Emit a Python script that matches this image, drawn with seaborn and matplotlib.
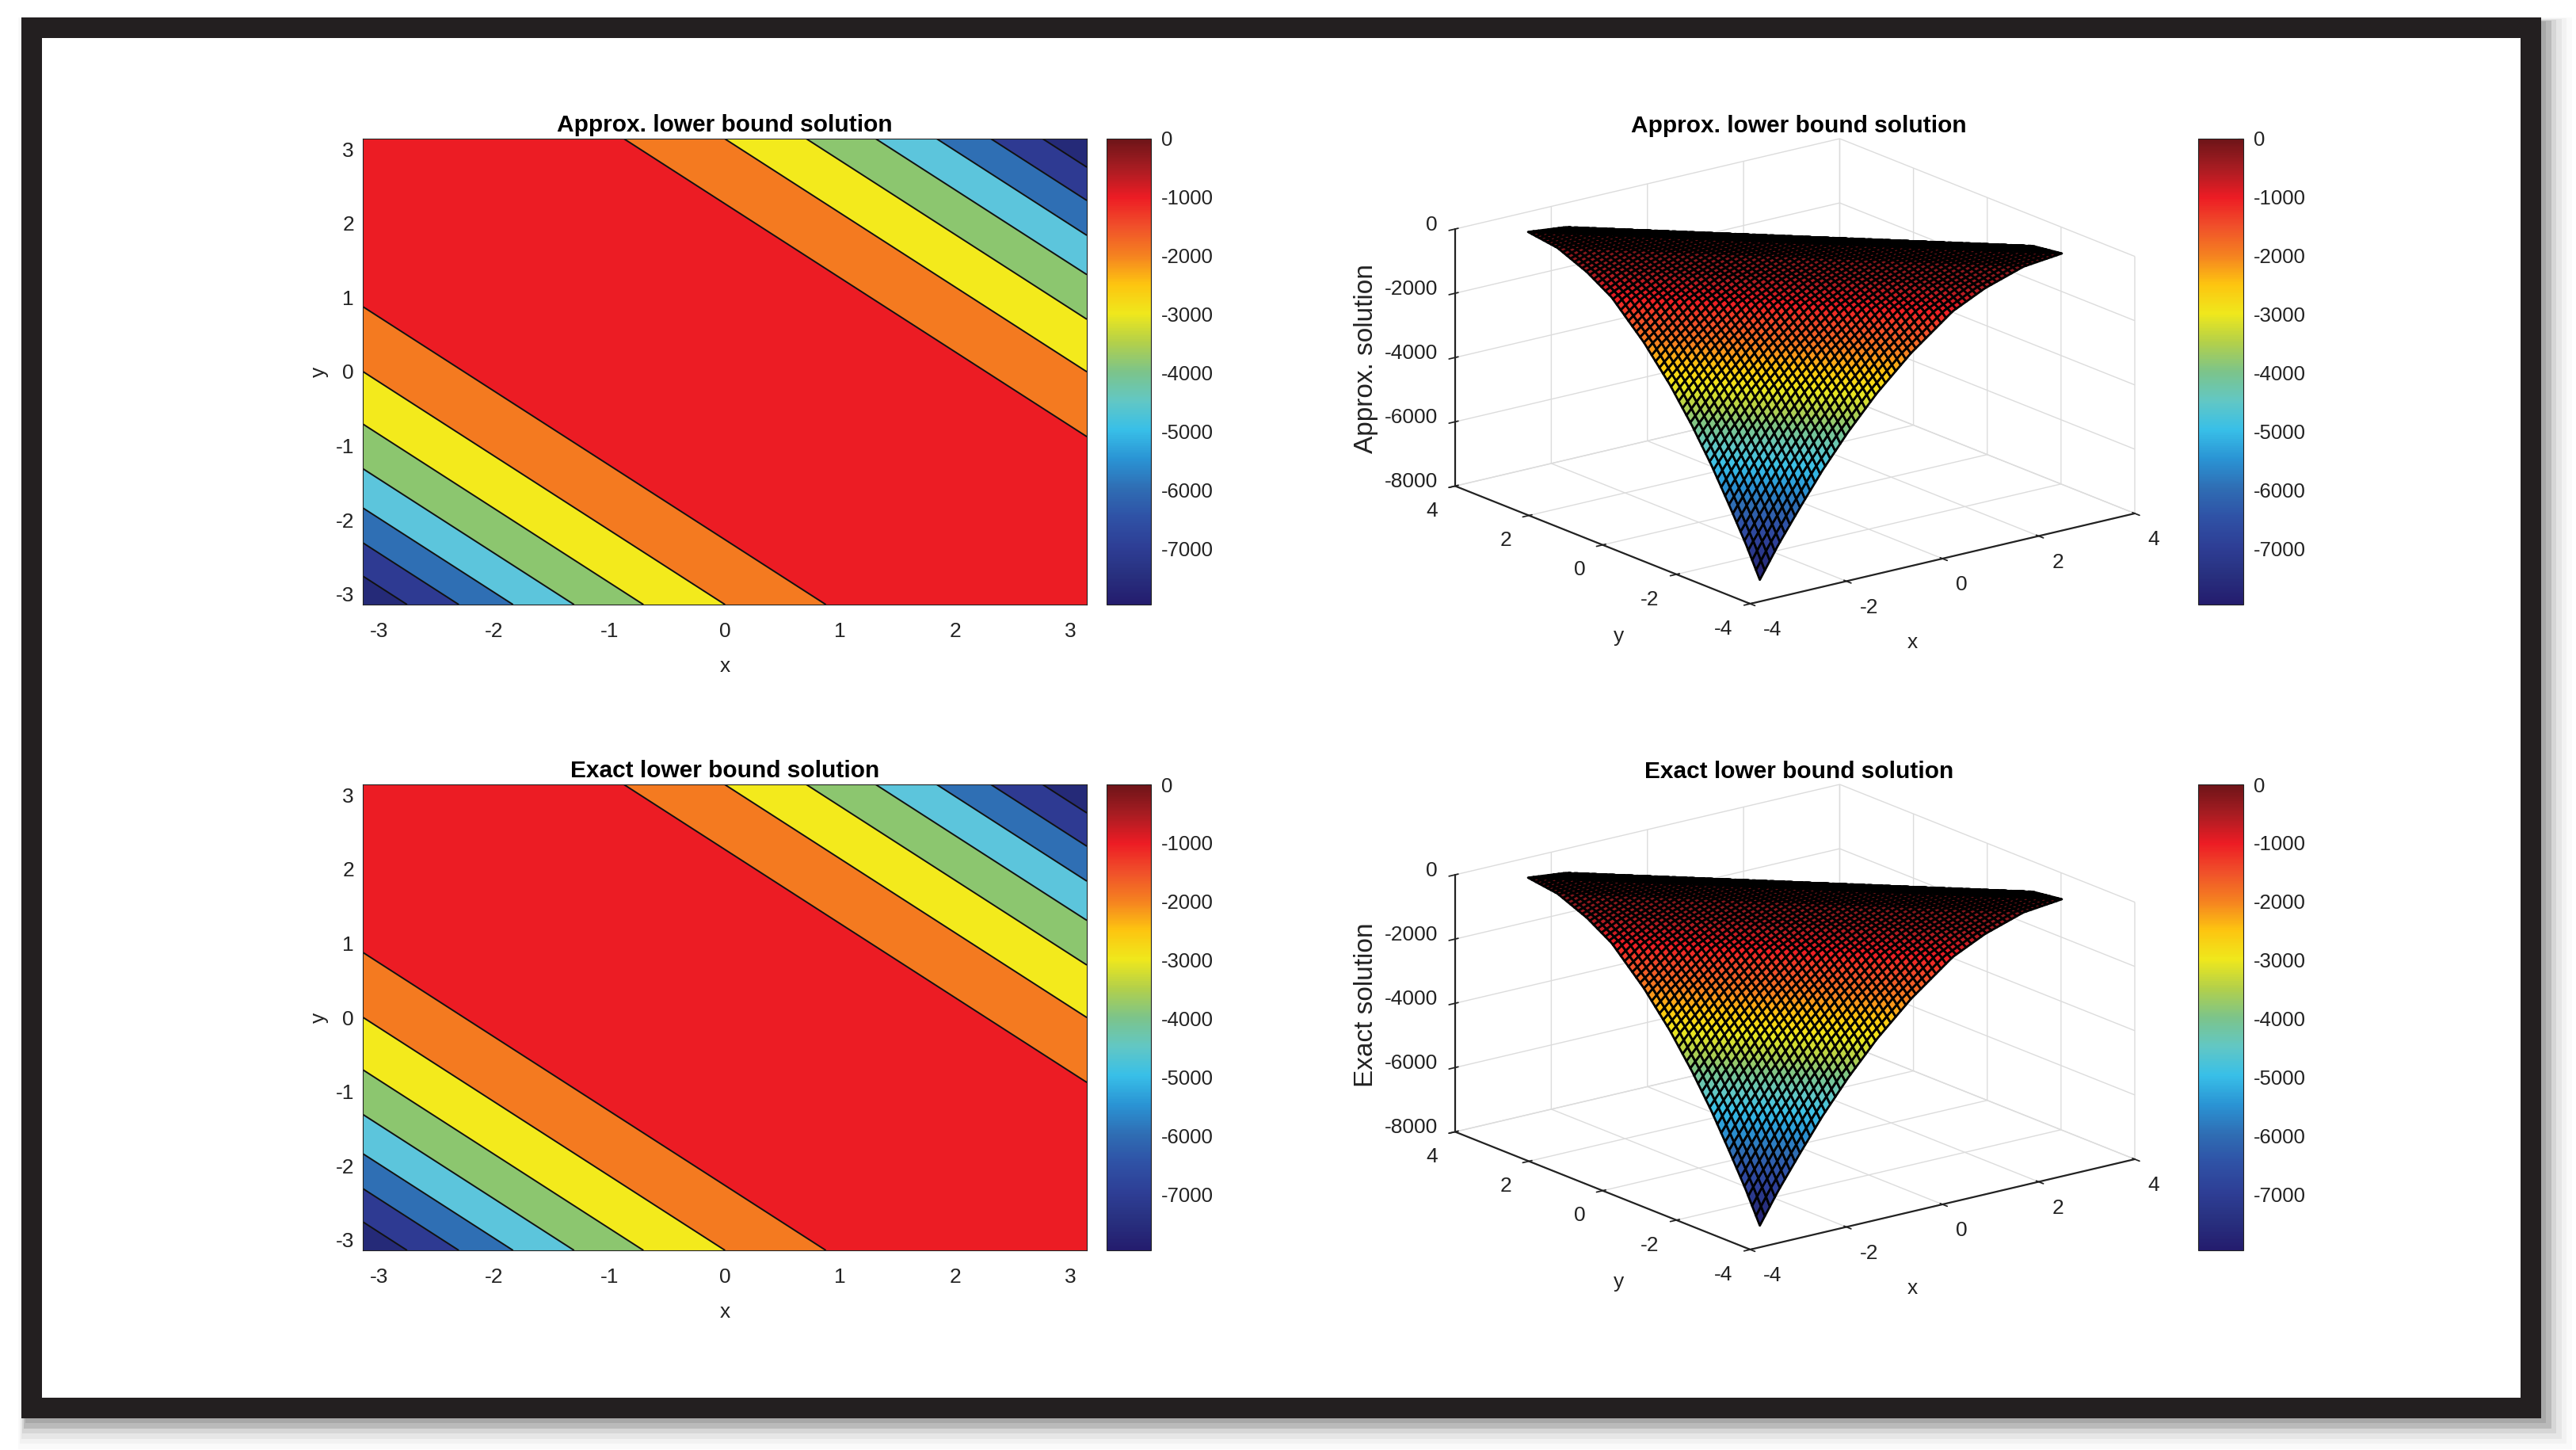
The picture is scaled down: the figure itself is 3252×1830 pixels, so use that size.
import numpy as np
import matplotlib
matplotlib.use("Agg")
import matplotlib.pyplot as plt
from matplotlib.patches import Rectangle
from matplotlib.cm import ScalarMappable
from matplotlib.colors import Normalize
from mpl_toolkits.mplot3d import proj3d
import seaborn as sns

# ---------- data ----------
abs_x_plus_y = [0.0, 0.8, 1.6, 2.27, 3.14, 3.85, 4.45, 4.98, 5.45, 5.90, 6.2832]
solution_u = [0, -130, -520, -1000, -2000, -3000, -4000, -5000, -6000, -7000, -7950]
contour_levels = [-7000, -6000, -5000, -4000, -3000, -2000, -1000]
band_levels = [-7950, -7000, -6000, -5000, -4000, -3000, -2000, -1000, 0]
band_colors = ["#252a78", "#2e3a92", "#2f6fb4", "#5cc5dc", "#8cc66f",
               "#f3ea1c", "#f47a20", "#ec1c24"]
cmap_anchors = ["#241c6e", "#28307f", "#2e3f96", "#2f52a6", "#2f6eb4", "#2a94d4", "#38bfe8",
                "#62c7c4", "#7cc48a", "#b3d04a", "#efe81c", "#fdc510", "#f58220", "#f0502a",
                "#ed1c24", "#a81c22", "#6e1418"]
grid_ticks_2d = [-3, -2, -1, 0, 1, 2, 3]
grid_ticks_3d = [-4, -2, 0, 2, 4]
z_ticks = [0, -2000, -4000, -6000, -8000]
cbar_ticks = [0, -1000, -2000, -3000, -4000, -5000, -6000, -7000]
titles_2d = ["Approx. lower bound solution", "Exact lower bound solution"]
z_labels = ["Approx. solution", "Exact solution"]
shadow_greys = [0.98, 0.95, 0.90, 0.84, 0.73, 0.66]

W, H = 3252, 1830
ROW_OFFSET = 815
FONT = ["Liberation Sans", "DejaVu Sans"]

sns.set_theme(style="white")
plt.rcParams["font.family"] = FONT
plt.rcParams["axes.unicode_minus"] = False

cmap = sns.blend_palette(cmap_anchors, n_colors=256, as_cmap=True)
norm = Normalize(-7950, 0)

grid_x = np.linspace(-np.pi, np.pi, 121)
X, Y = np.meshgrid(grid_x, grid_x)
Z = np.interp(np.abs(X + Y), abs_x_plus_y, solution_u)

fig = plt.figure(figsize=(W / 100, H / 100), dpi=100, facecolor="white")


def rect_px(left, top, right, bottom):
    return [left / W, 1 - bottom / H, (right - left) / W, (bottom - top) / H]


def frame_patch(left, top, right, bottom, color, z):
    r = rect_px(left, top, right, bottom)
    fig.add_artist(Rectangle((r[0], r[1]), r[2], r[3], transform=fig.transFigure,
                             facecolor=color, edgecolor="none", zorder=z))


# picture frame with its soft shadow
for i, g in enumerate(shadow_greys):
    grow = (len(shadow_greys) - 1 - i) * 6.5 + 6
    frame_patch(33 - grow * 0.25, 28 - grow * 0.15, 3208 + grow, 1790 + grow, (g, g, g), -10 + i)
frame_patch(27, 22, 3208, 1790, "#231f20", -3)
frame_patch(53, 48, 3182, 1764, "white", -2)


def colorbar(left, right, top, bottom):
    cax = fig.add_axes(rect_px(left, top, right, bottom))
    cb = fig.colorbar(ScalarMappable(norm=norm, cmap=cmap), cax=cax)
    cb.set_ticks(cbar_ticks)
    cb.set_ticklabels([str(t) for t in cbar_ticks])
    cb.ax.tick_params(labelsize=18.5, direction="in", length=5, width=0.8, pad=9, colors="#222222", right=True)
    cb.outline.set_linewidth(0.8)
    cb.outline.set_edgecolor("#222222")


for row in range(2):
    off = row * ROW_OFFSET

    # filled contour panel
    ax = fig.add_axes(rect_px(458, 175 + off, 1372, 763 + off))
    ax.contourf(X, Y, Z, levels=band_levels, colors=sns.color_palette(band_colors))
    ax.contour(X, Y, Z, levels=contour_levels, colors="#111111", linewidths=1.4, linestyles="solid")
    ax.set_xlim(-np.pi, np.pi)
    ax.set_ylim(-np.pi, np.pi)
    ax.set_xticks(grid_ticks_2d)
    ax.set_yticks(grid_ticks_2d)
    ax.tick_params(labelsize=19, direction="in", length=6, width=0.8, top=True, right=True,
                   bottom=True, left=True, colors="#222222")
    ax.tick_params(axis="x", pad=16)
    ax.tick_params(axis="y", pad=8)
    ax.set_xlabel("x", fontsize=19, labelpad=14, color="#222222")
    ax.set_ylabel("y", fontsize=19, labelpad=6, color="#222222")
    ax.set_title(titles_2d[row], fontsize=21.5, fontweight="bold", pad=6.5, color="black")
    for s in ax.spines.values():
        s.set_linewidth(0.8)
        s.set_color("#222222")
    colorbar(1397, 1453, 175 + off, 763 + off)

    # surface panel
    ax3 = fig.add_axes([0.5, 0.1, 0.3, 0.3], projection="3d", proj_type="ortho")
    ax3.apply_aspect = lambda position=None: None
    ax3.view_init(elev=30, azim=-127.5)
    ax3.set_box_aspect((1, 1, 1))
    ax3.set_xlim(-4, 4)
    ax3.set_ylim(-4, 4)
    ax3.set_zlim(-8000, 0)
    ax3.patch.set_alpha(0)
    ax3.plot_surface(X, Y, Z, rcount=120, ccount=120, cmap=cmap, norm=norm, shade=False,
                     edgecolor="black", linewidth=2.0, antialiased=True)
    ax3.set_xticks(grid_ticks_3d)
    ax3.set_yticks(grid_ticks_3d)
    ax3.set_zticks(z_ticks)
    ax3.set_zticklabels([""] * len(z_ticks))
    ax3.tick_params(labelsize=19, colors="#222222", pad=6)
    for t in ax3.xaxis.get_ticklabels():
        t.set_ha("left")
    for t in ax3.yaxis.get_ticklabels():
        t.set_ha("right")
    for a in (ax3.xaxis, ax3.yaxis, ax3.zaxis):
        a.set_pane_color((1, 1, 1, 0))
        a.pane.set_edgecolor("#d9d9d9")
        a._axinfo["grid"].update(color="#dcdcdc", linewidth=1.0)
        a.line.set_color("#222222")
        a.line.set_linewidth(1.6)

    # place the projected box on its measured corners
    M = ax3.get_proj()
    px, py, _ = proj3d.proj_transform(np.array([-4.0, 4.0, -4.0, 4.0]),
                                      np.array([4.0, -4.0, -4.0, 4.0]),
                                      np.array([-8000.0, -8000.0, -8000.0, 0.0]), M)
    nrm = ax3.transAxes.inverted().transform(ax3.transData.transform(np.column_stack([px, py])))
    sx = (2695 - 1837) / (nrm[1, 0] - nrm[0, 0])
    sy = (762 - 175) / (nrm[3, 1] - nrm[2, 1])
    left = 1837 - nrm[0, 0] * sx
    bottom = (762 + off) + nrm[2, 1] * sy
    ax3.set_position([left / W, 1 - bottom / H, sx / W, sy / H])

    # z tick labels, anchored on the projected ticks of the left edge
    for zt in z_ticks:
        tx, ty, _ = proj3d.proj_transform(-4.0, 4.0, float(zt), M)
        p = ax3.transData.transform((tx, ty))
        fig.text((p[0] - 22) / W, (p[1] + 5) / H, str(zt), fontsize=19, ha="right", va="center",
                 color="#222222")

    fig.text(2414 / W, 1 - (811 + off) / H, "x", fontsize=19, ha="center", va="center", color="#222222")
    fig.text(2044 / W, 1 - (803 + off) / H, "y", fontsize=19, ha="center", va="center", color="#222222")
    fig.text(1724 / W, 1 - (453 + off) / H, z_labels[row], fontsize=24, rotation=90,
             ha="center", va="center", color="#222222")
    fig.text(2271 / W, 1 - (167 + off) / H, titles_2d[row], fontsize=21.5, fontweight="bold",
             ha="center", va="baseline", color="black")
    colorbar(2775, 2832, 175 + off, 763 + off)

fig.savefig("out.png", dpi=100, facecolor="white")
